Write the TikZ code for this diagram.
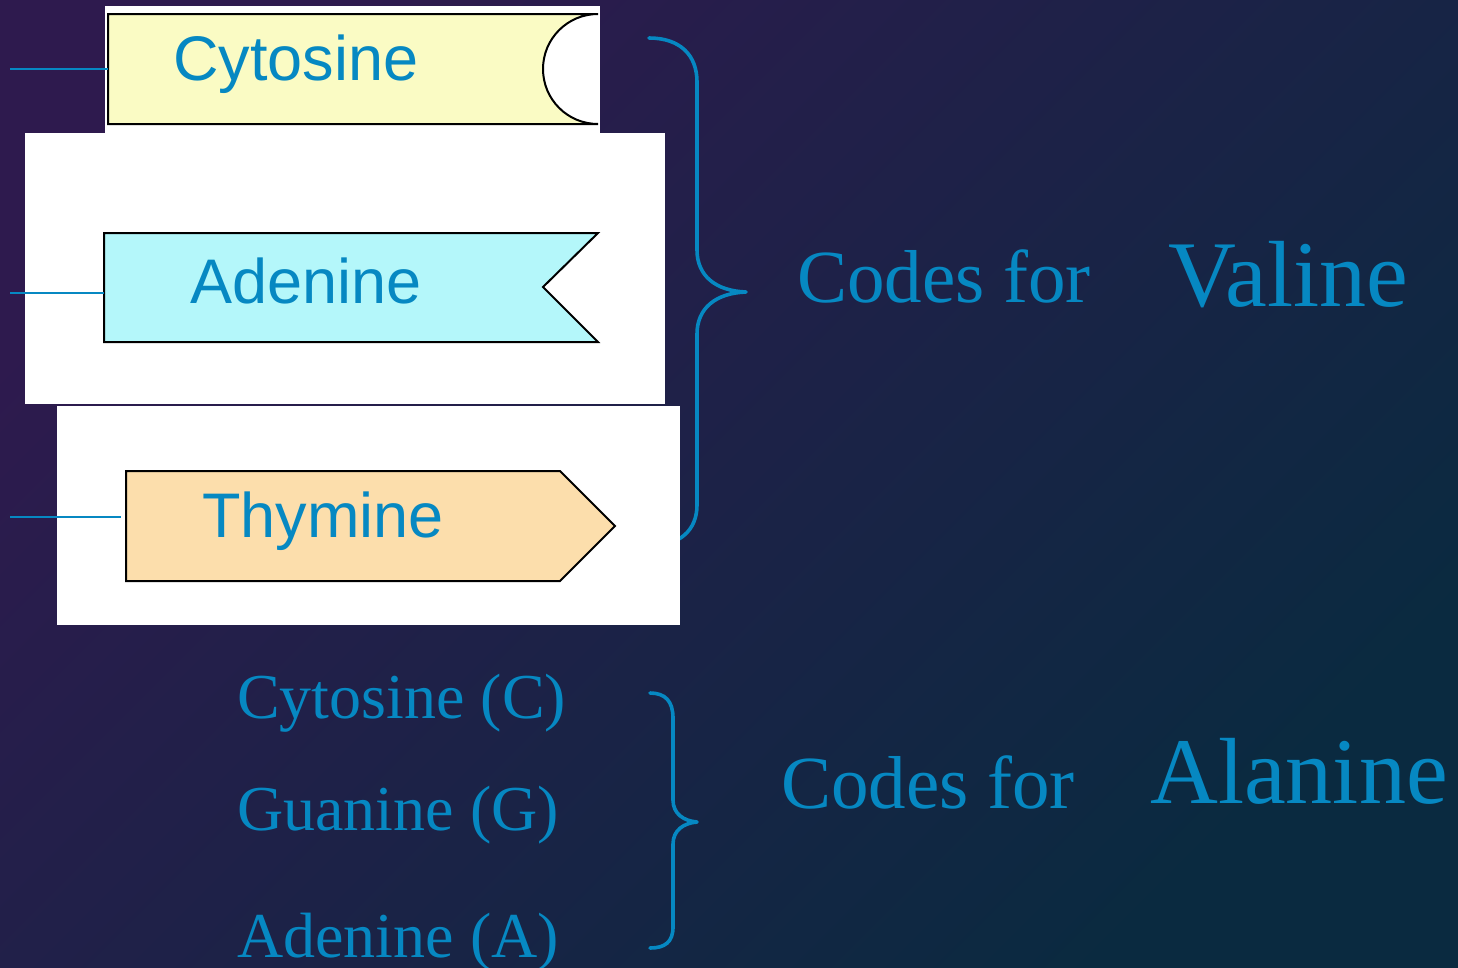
\documentclass[tikz,border=0pt]{standalone}
\usepackage{fontspec}
\setmainfont{Liberation Serif}
\newfontfamily\basefont{Liberation Sans}
\definecolor{bgtl}{RGB}{46,26,78}
\definecolor{bgbr}{RGB}{10,42,64}
\definecolor{dnablue}{RGB}{6,136,194}
\definecolor{cytfill}{RGB}{250,251,196}
\definecolor{adefill}{RGB}{180,247,250}
\definecolor{thyfill}{RGB}{252,222,172}
\begin{document}
\begin{tikzpicture}[x=1pt,y=-1pt,
  panel/.style={fill=white,draw=none},
  basebox/.style={draw=black,line width=2pt,line join=miter},
  baselabel/.style={text=dnablue,font=\basefont\fontsize{63}{63}\selectfont,anchor=base,inner sep=0pt},
  serlabel/.style={text=dnablue,font=\fontsize{64}{64}\selectfont,anchor=base west,inner sep=0pt},
  codes/.style={text=dnablue,font=\fontsize{75}{75}\selectfont,anchor=base west,inner sep=0pt},
  amino/.style={text=dnablue,font=\fontsize{94}{94}\selectfont,anchor=base west,inner sep=0pt},
  brace/.style={draw=dnablue,line width=3.6pt,line cap=round,line join=round},
  bond/.style={draw=dnablue,line width=2.3pt}]
% backdrop
\useasboundingbox (0,0) rectangle (1458,967);
\shade[top color=bgtl,bottom color=bgbr,shading angle=45] (0,0) rectangle (1458,967);

% brace grouping the three bases that code for valine
\draw[brace] (649,38) .. controls (680,38) and (697,55) .. (697,82)
  -- (697,250) .. controls (697,276) and (716,291) .. (746,292)
  .. controls (716,293) and (697,308) .. (697,334)
  -- (697,505) .. controls (697,530) and (680,546) .. (649,546);

% white cut-outs carrying the base shapes
\fill[panel] (105,6) rectangle (600,133);
\fill[panel] (25,133) rectangle (665,404);
\fill[panel] (57,406) rectangle (680,625);

% cytosine: rounded notch
\draw[basebox,fill=cytfill] (108,14) -- (598,14)
  .. controls (567.6,14) and (543,38.6) .. (543,69)
  .. controls (543,99.4) and (567.6,124) .. (598,124)
  -- (108,124) -- cycle;
\coordinate (cytL) at (108,69);
% adenine: V notch
\draw[basebox,fill=adefill] (104,233) -- (598,233) -- (543,287) -- (598,342) -- (104,342) -- cycle;
\coordinate (adeL) at (104,293);
% thymine: pointed end
\draw[basebox,fill=thyfill] (126,471) -- (560,471) -- (615,526) -- (560,581) -- (126,581) -- cycle;
\coordinate (thyL) at (121,517);

\node[baselabel] (cyt) at (296,80) {Cytosine};
\node[baselabel] (ade) at (306,303) {Adenine};
\node[baselabel] (thy) at (323,537) {Thymine};

% sugar-phosphate stubs
\coordinate (cytS) at (10,69);
\coordinate (adeS) at (10,293);
\coordinate (thyS) at (10,517);
\draw[bond] (cytS) -- (cytL);
\draw[bond] (adeS) -- (adeL);
\draw[bond] (thyS) -- (thyL);

\node[codes] (codes1) at (797,302) {Codes for};
\node[amino] (valine) at (1168,306) {Valine};

% second codon
\node[serlabel] (c2) at (237,718) {Cytosine (C)};
\node[serlabel] (g2) at (237,830) {Guanine (G)};
\node[serlabel] (a2) at (237,957) {Adenine (A)};

\draw[brace] (650,693) .. controls (665,693) and (673,701) .. (673,718)
  -- (673,800) .. controls (673,814) and (684,821) .. (697,822)
  .. controls (684,823) and (673,830) .. (673,844)
  -- (673,927) .. controls (673,942) and (665,948) .. (650,948);

\node[codes] (codes2) at (781,808) {Codes for};
\node[amino] (alanine) at (1150,803) {Alanine};
\end{tikzpicture}
\end{document}
